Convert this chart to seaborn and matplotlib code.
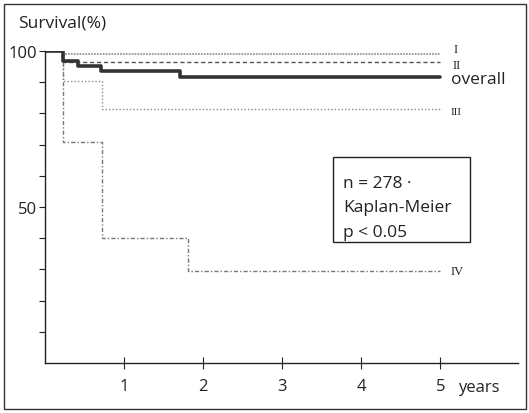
import matplotlib
matplotlib.use("Agg")
import matplotlib.pyplot as plt
import seaborn as sns
import pandas as pd
from matplotlib.patches import Rectangle

# Kaplan-Meier step curves (years, survival %)
overall_t = [0, 0.23, 0.41, 0.70, 1.71, 5.0]
overall_s = [100, 96.9, 95.2, 93.5, 91.7, 91.7]
stage1_t = [0, 0.23, 5.0]
stage1_s = [100, 99.0, 99.0]
stage2_t = [0, 0.23, 5.0]
stage2_s = [100, 96.5, 96.5]
stage3_t = [0, 0.23, 0.72, 5.0]
stage3_s = [100, 90.5, 81.4, 81.4]
stage4_t = [0, 0.23, 0.72, 1.80, 5.0]
stage4_s = [100, 70.8, 40.2, 29.6, 29.6]

curve_names = ["I", "II", "III", "IV", "overall"]
x_ticks = [1, 2, 3, 4, 5]
info_lines = ["n = 278 \u00b7", "Kaplan-Meier", "p < 0.05"]

sns.set_theme(style="white")
plt.rcParams["font.family"] = ["Open Sans", "DejaVu Sans"]

fig = plt.figure(figsize=(5.29, 4.14), dpi=100)
ax = fig.add_axes([45.3 / 529, 1 - 364 / 414, (518 - 45.3) / 529, (364 - 52) / 414])

curves = {
    "I": (stage1_t, stage1_s),
    "II": (stage2_t, stage2_s),
    "III": (stage3_t, stage3_s),
    "IV": (stage4_t, stage4_s),
    "overall": (overall_t, overall_s),
}
styles = {
    "I": dict(color="#9a9a9a", linestyle=(0, (1, 0.6)), linewidth=1.3),
    "II": dict(color="#555555", linestyle=(0, (3, 2)), linewidth=1.0),
    "III": dict(color="#8a8a8a", linestyle=(0, (1, 1.5)), linewidth=1.0),
    "IV": dict(color="#777777", linestyle=(0, (3, 1.5, 1, 1.5)), linewidth=1.0),
    "overall": dict(color="#333333", linestyle="-", linewidth=2.6),
}

frames = []
for name in curve_names:
    t, s = curves[name]
    frames.append(pd.DataFrame({"years": t, "survival": s, "group": name}))
df = pd.concat(frames, ignore_index=True)

for name in curve_names:
    sub = df[df["group"] == name]
    sns.lineplot(data=sub, x="years", y="survival", ax=ax, drawstyle="steps-post",
                 estimator=None, sort=False, legend=False, **styles[name])

ax.set_xlim(0, (518 - 45.3) / 79)
ax.set_ylim(0, 100)
ax.set_xlabel("")
ax.set_ylabel("")
ax.spines["top"].set_visible(False)
ax.spines["right"].set_visible(False)
for sp in ("left", "bottom"):
    ax.spines[sp].set_color("#222222")
    ax.spines[sp].set_linewidth(1.0)

ax.set_xticks(x_ticks)
ax.set_xticklabels([str(v) for v in x_ticks], fontsize=12)
ax.set_yticks(list(range(10, 101, 10)))
ax.set_yticklabels(["50" if v == 50 else ("100" if v == 100 else "") for v in range(10, 101, 10)],
                   fontsize=12)
ax.tick_params(axis="x", bottom=True, direction="inout", length=8, width=0.8,
               color="#222222", pad=7)
ax.tick_params(axis="y", left=True, direction="out", length=4, width=0.8,
               color="#222222", pad=2)
ax.tick_params(labelcolor="#222222")

# curve labels at the right end
serif = ["Liberation Serif", "DejaVu Serif"]
ax.text(5.17, 100.8, "I", fontsize=9, family=serif, va="center", ha="left", color="#222222")
ax.text(5.15, 95.6, "II", fontsize=9, family=serif, va="center", ha="left", color="#222222")
ax.text(5.13, 91.0, "overall", fontsize=12.5, va="center", ha="left", color="#222222")
ax.text(5.13, 80.6, "III", fontsize=8, family=serif, va="center", ha="left", color="#222222")
ax.text(5.13, 29.5, "IV", fontsize=9, family=serif, va="center", ha="left", color="#222222")
ax.text(5.22, -7.6, "years", fontsize=12, va="center", ha="left", color="#222222")

fig.text(18 / 529, 1 - 23 / 414, "Survival(%)", fontsize=12.5, va="center", ha="left",
         color="#222222")

# annotation box
fig.patches.append(Rectangle((333 / 529, 1 - 243 / 414), (470 - 333) / 529, (243 - 158) / 414,
                             transform=fig.transFigure, fill=False, edgecolor="#222222",
                             linewidth=1.0))
for i, line in enumerate(info_lines):
    fig.text(343 / 529, 1 - (184 + i * 24.5) / 414, line, fontsize=12.5, va="center", ha="left",
             color="#222222")

# outer frame
fig.patches.append(Rectangle((4 / 529, 1 - 410 / 414), 522 / 529, 405 / 414,
                             transform=fig.transFigure, fill=False, edgecolor="#333333",
                             linewidth=1.0))

fig.savefig("out.png", dpi=100)
